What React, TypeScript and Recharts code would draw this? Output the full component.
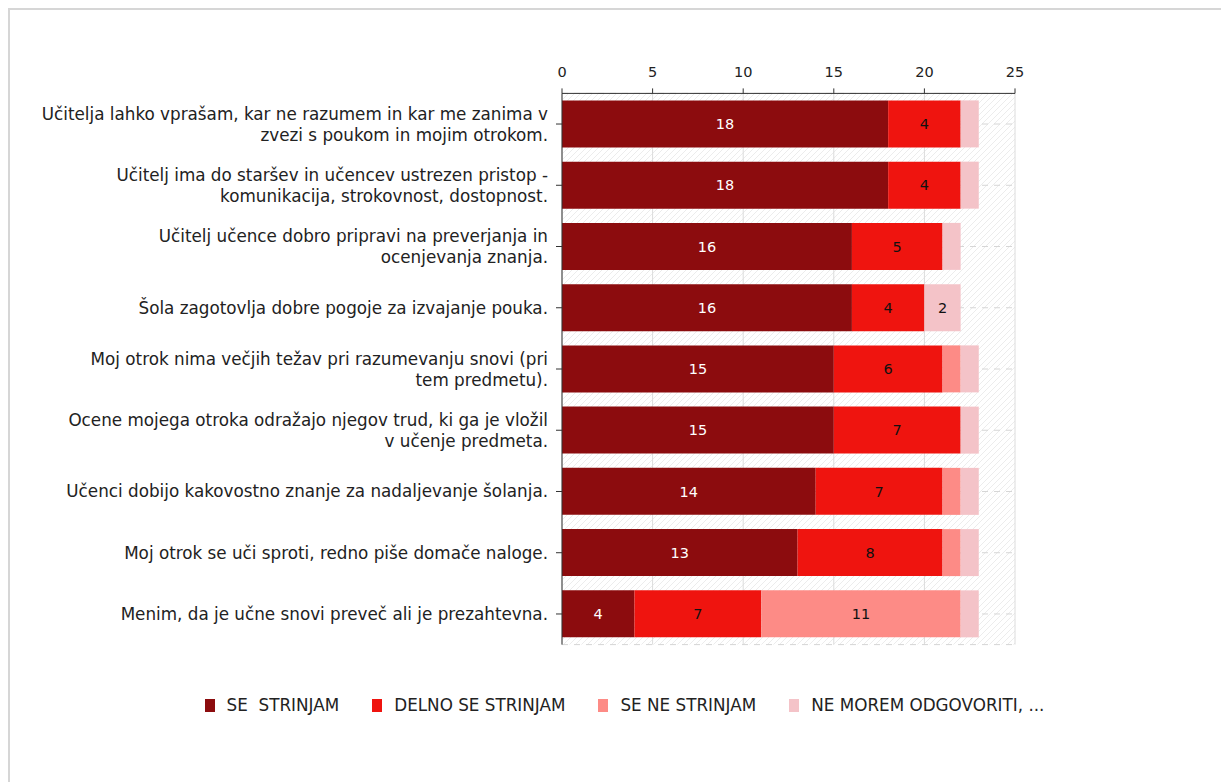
import { BarChart, Bar, XAxis, YAxis, CartesianGrid, LabelList } from "recharts";

const categories = [
  "Učitelja lahko vprašam, kar ne razumem in kar me zanima v\nzvezi s poukom in mojim otrokom.",
  "Učitelj ima do staršev in učencev ustrezen pristop -\nkomunikacija, strokovnost, dostopnost.",
  "Učitelj učence dobro pripravi na preverjanja in\nocenjevanja znanja.",
  "Šola zagotovlja dobre pogoje za izvajanje pouka.",
  "Moj otrok nima večjih težav pri razumevanju snovi (pri\ntem predmetu).",
  "Ocene mojega otroka odražajo njegov trud, ki ga je vložil\nv učenje predmeta.",
  "Učenci dobijo kakovostno znanje za nadaljevanje šolanja.",
  "Moj otrok se uči sproti, redno piše domače naloge.",
  "Menim, da je učne snovi preveč ali je prezahtevna.",
];

const seStrinjam = [18, 18, 16, 16, 15, 15, 14, 13, 4];
const delnoSeStrinjam = [4, 4, 5, 4, 6, 7, 7, 8, 7];
const seNeStrinjam = [0, 0, 0, 0, 1, 0, 1, 1, 11];
const neMorem = [1, 1, 1, 2, 1, 1, 1, 1, 1];

const xTicks = [0, 5, 10, 15, 20, 25];

const series = [
  { key: "a", name: "SE  STRINJAM", color: "#8c0c0e", labelColor: "#ffffff" },
  { key: "b", name: "DELNO SE STRINJAM", color: "#ef140f", labelColor: "#111111" },
  { key: "c", name: "SE NE STRINJAM", color: "#fd8b86", labelColor: "#111111" },
  { key: "d", name: "NE MOREM ODGOVORITI, ...", color: "#f4c3c8", labelColor: "#111111" },
];

const data = categories.map((name, i) => ({
  name,
  a: seStrinjam[i],
  b: delnoSeStrinjam[i],
  c: seNeStrinjam[i],
  d: neMorem[i],
}));

const FONT = "'DejaVu Sans', sans-serif";

function CategoryTick(props: any) {
  const { x, y, payload } = props;
  const lines = String(payload.value).split("\n");
  const lh = 21;
  const startY = y - ((lines.length - 1) * lh) / 2;
  return (
    <text x={x} y={startY} textAnchor="end" dominantBaseline="central" fontSize={16.8} fontFamily={FONT} fill="#222">
      {lines.map((l, i) => (
        <tspan key={i} x={x} y={startY + i * lh}>
          {l}
        </tspan>
      ))}
    </text>
  );
}

export default function App() {
  return (
    <div
      style={{
        position: "relative",
        width: 1221,
        height: 774,
        boxSizing: "border-box",
        borderTop: "2px solid #d6d6d6",
        borderLeft: "2px solid #d6d6d6",
        fontFamily: FONT,
      }}
    >
      <BarChart
        width={1219}
        height={772}
        data={data}
        layout="vertical"
        margin={{ top: 53.4, right: 214, bottom: 137.4, left: 0 }}
        barSize={47}
      >
        <defs>
          <pattern id="hatch" width="6" height="6" patternUnits="userSpaceOnUse">
            <rect width="6" height="6" fill="#ffffff" />
            <path d="M-1,1 l2,-2 M0,6 l6,-6 M5,7 l2,-2" stroke="#ececec" strokeWidth="1" />
          </pattern>
        </defs>
        <CartesianGrid horizontal={false} stroke="#dcdcdc" fill="url(#hatch)" fillOpacity={1} />
        <CartesianGrid vertical={false} stroke="#d6d6d6" strokeDasharray="6 6" />
        <XAxis
          type="number"
          orientation="top"
          domain={[0, 25]}
          ticks={xTicks}
          height={30}
          tickSize={5}
          tickMargin={11}
          stroke="#333"
          tick={{ fontSize: 14.5, fill: "#222", fontFamily: FONT }}
        />
        <YAxis
          type="category"
          dataKey="name"
          width={552}
          tickSize={6}
          tickMargin={8}
          stroke="#333"
          tick={<CategoryTick />}
          interval={0}
        />
        {series.map((s) => (
          <Bar key={s.key} dataKey={s.key} name={s.name} stackId="x" fill={s.color} isAnimationActive={false}>
            <LabelList
              dataKey={s.key}
              position="center"
              formatter={(v: any) => (v >= 2 ? v : "")}
              fill={s.labelColor}
              fontSize={14.5}
              fontFamily={FONT}
            />
          </Bar>
        ))}
      </BarChart>
      <div
        style={{
          position: "absolute",
          top: 685,
          left: 0,
          width: 1229,
          display: "flex",
          justifyContent: "center",
          gap: 33,
          fontSize: 16.8,
          color: "#222",
        }}
      >
        {series.map((s) => (
          <div key={s.key} style={{ display: "flex", alignItems: "center" }}>
            <span style={{ display: "inline-block", width: 10, height: 13, background: s.color, marginRight: 12 }} />
            <span style={{ whiteSpace: "pre" }}>{s.name}</span>
          </div>
        ))}
      </div>
    </div>
  );
}
